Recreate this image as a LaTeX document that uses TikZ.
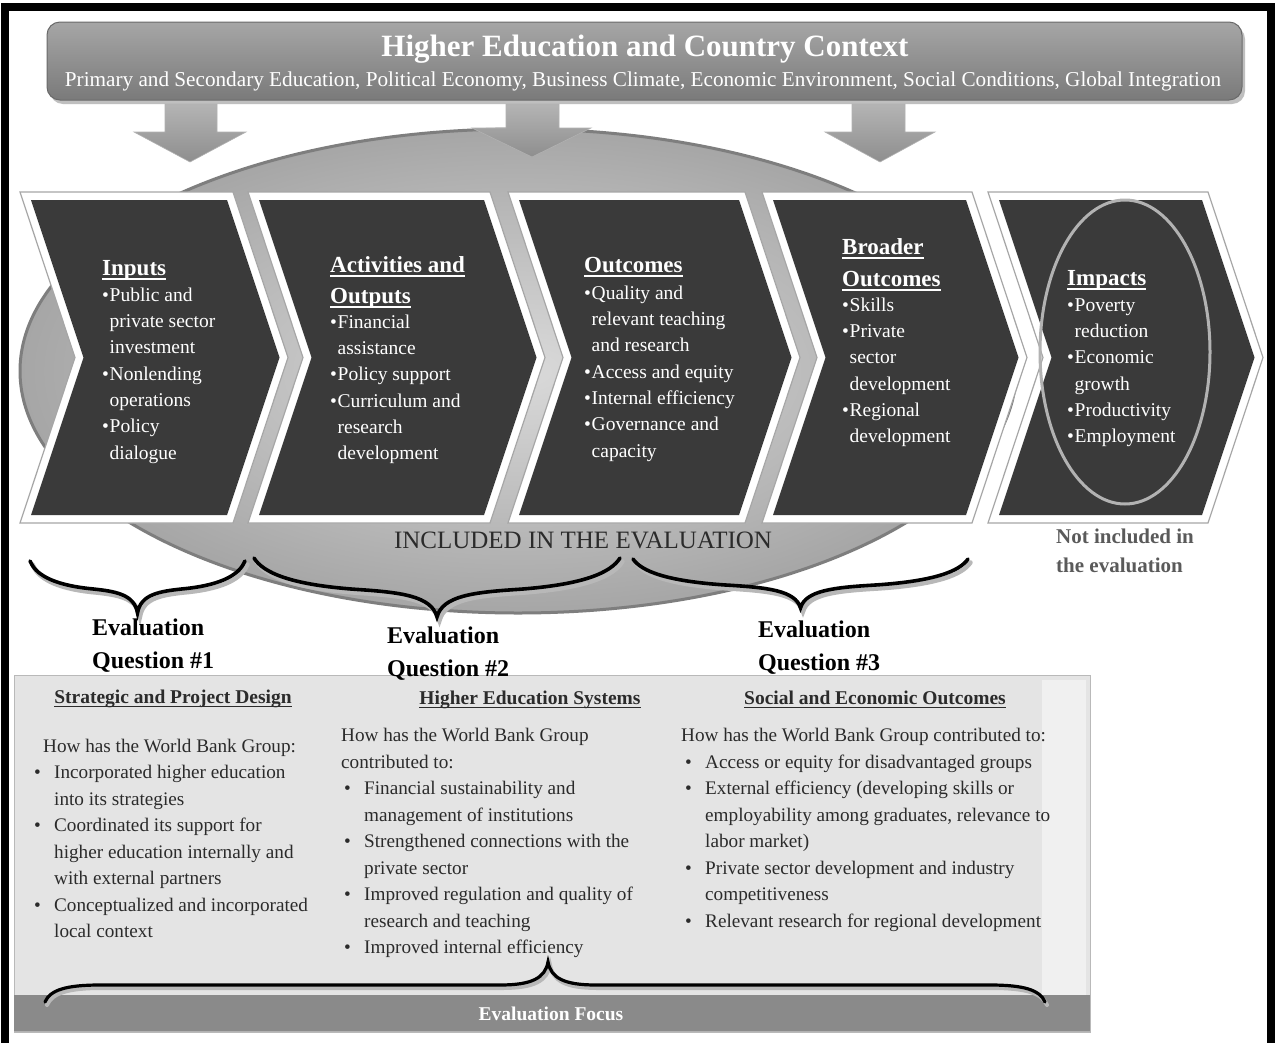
\documentclass[tikz,border=0pt]{standalone}
\usepackage{fontspec}
\setmainfont{Liberation Serif}

\definecolor{bannerTop}{HTML}{A6A6A6}
\definecolor{bannerBot}{HTML}{7A7A7A}
\definecolor{bannerEdge}{HTML}{6A6A6A}
\definecolor{arrowTop}{HTML}{B4B4B4}
\definecolor{arrowBot}{HTML}{8E8E8E}
\definecolor{ellIn}{HTML}{DADADA}
\definecolor{ellOut}{HTML}{A6A6A6}
\definecolor{ellRim}{HTML}{7E7E7E}
\definecolor{chevDark}{HTML}{3A3A3A}
\definecolor{panelBg}{HTML}{E4E4E4}
\definecolor{barBg}{HTML}{8A8A8A}
\definecolor{textDark}{HTML}{2B2B2B}
\definecolor{noteGray}{HTML}{5A5A5A}

% bullets and hanging indents
\newcommand{\cbul}{\makebox[7.5pt][l]{•}}
\newcommand{\cind}{\hspace*{7.5pt}}
\newcommand{\pbul}{\makebox[20pt][l]{•}}
\newcommand{\pind}{\hspace*{20pt}}
% heavy underline for headings
\newsavebox{\hdbox}
\newcommand{\hdul}[1]{\sbox\hdbox{#1}\rlap{\usebox\hdbox}\raisebox{-0.22em}{\rule{\wd\hdbox}{0.075em}}}

% one chevron: left and right x of its top edge
\newcommand{\chevron}[2]{%
  \pgfmathsetmacro{\chL}{#1}\pgfmathsetmacro{\chR}{#2}%
  \draw[chevframe] (\chL,192) -- (\chR,192) -- (\chR+55,357.5) -- (\chR,523)
        -- (\chL,523) -- (\chL+55,357.5) -- cycle;
  \fill[chevcore] (\chL+11,200) -- (\chR-6,200) -- (\chR+46.5,357.5) -- (\chR-6,515)
        -- (\chL+11,515) -- (\chL+63.5,357.5) -- cycle;
}

% downward curly brace: x0, x1, top y, depth
\newcommand{\bracedraw}[1]{%
  \draw[#1] (\bA,\bT) .. controls (\bA+0.05*\bH,\bT+0.25*\bD) and (\bA+0.2*\bH,\bT+0.45*\bD)
    .. (\bA+0.55*\bH,\bT+0.53*\bD) .. controls (\bM-0.2*\bH,\bT+0.58*\bD) and (\bM-0.03*\bH,\bT+0.64*\bD)
    .. (\bM,\bT+\bD) .. controls (\bM+0.03*\bH,\bT+0.64*\bD) and (\bM+0.2*\bH,\bT+0.58*\bD)
    .. (\bB-0.55*\bH,\bT+0.53*\bD) .. controls (\bB-0.2*\bH,\bT+0.45*\bD) and (\bB-0.05*\bH,\bT+0.25*\bD)
    .. (\bB,\bT);}
\newcommand{\downbrace}[4]{%
  \pgfmathsetmacro{\bA}{#1}\pgfmathsetmacro{\bB}{#2}%
  \pgfmathsetmacro{\bM}{(#1+#2)/2}\pgfmathsetmacro{\bH}{(#2-#1)/2}%
  \pgfmathsetmacro{\bT}{#3}\pgfmathsetmacro{\bD}{#4}%
  \bracedraw{braceshadow}\bracedraw{bracestroke}%
}

\begin{document}
\begin{tikzpicture}[x=1pt,y=-1pt,
  chevframe/.style={fill=white, draw=gray!70, line width=1.2pt, line join=miter},
  chevcore/.style={fill=chevDark},
  chevhead/.style={text=white, anchor=base west, inner sep=0pt, font=\bfseries\fontsize{23}{30}\selectfont},
  chevtxt/.style={text=white, anchor=north west, inner sep=0pt, align=left, font=\fontsize{19.5}{26.3}\selectfont},
  blockarrow/.style={top color=arrowTop, bottom color=arrowBot, draw=gray!60, line width=0.6pt},
  braceshadow/.style={draw=black!28, line width=4.5pt, line cap=round, shift={(2.5,3.5)}},
  bracestroke/.style={draw=black, line width=3.6pt, line cap=round},
  evalq/.style={anchor=base west, inner sep=0pt, text=black, font=\bfseries\fontsize{24}{33}\selectfont},
  panelhead/.style={anchor=base, inner sep=0pt, text=textDark, font=\bfseries\fontsize{19.5}{26}\selectfont},
  paneltxt/.style={anchor=north west, inner sep=0pt, align=left, text=textDark, font=\fontsize{19.2}{26.5}\selectfont},
]
\useasboundingbox (0,0) rectangle (1275,1042);
\fill[white] (0,0) rectangle (1275,1042);

% ---------- large ellipse behind the chain ----------
\shade[inner color=ellIn, outer color=ellOut] (518,371) ellipse [x radius=498, y radius=242];
\draw[ellRim, line width=3pt] (518,371) ellipse [x radius=498, y radius=242];

% ---------- context banner ----------
\fill[black!25, rounded corners=13pt] (50,26) rectangle (1245,104);
\shade[top color=bannerTop, bottom color=bannerBot, draw=bannerEdge, line width=1pt, rounded corners=13pt]
  (47,22) rectangle (1242,100);
\node[anchor=base, inner sep=0pt, text=white, font=\bfseries\fontsize{31}{36}\selectfont] (title) at (645,56)
  {Higher Education and Country Context};
\node[anchor=base, inner sep=0pt, text=white, font=\fontsize{21.2}{24}\selectfont] (subtitle) at (643,86)
  {Primary and Secondary Education, Political Economy, Business Climate, Economic Environment, Social Conditions, Global Integration};

% ---------- down arrows ----------
\shade[blockarrow] (165,104) -- (217,104) -- (217,132) -- (246,132) -- (190,162) -- (134,132) -- (165,132) -- cycle;
\shade[blockarrow] (506,104) -- (559,104) -- (559,128) -- (591,128) -- (532,157) -- (472,128) -- (506,128) -- cycle;
\shade[blockarrow] (852,104) -- (905,104) -- (905,132) -- (935,132) -- (880,162) -- (825,132) -- (852,132) -- cycle;

% ---------- chevron chain ----------
\chevron{20}{233}
\chevron{248}{490}
\chevron{508}{745}
\chevron{762}{972}
\chevron{988}{1208}
\draw[gray!60, line width=3pt] (1125,352) ellipse [x radius=85, y radius=152];

% Inputs
\node[chevhead] (h-inputs) at (102,275) {\hdul{Inputs}};
\node[chevtxt] (b-inputs) at (102,282.6) {\strut\cbul Public and\\ \cind private sector\\ \cind investment\\
  \cbul Nonlending\\ \cind operations\\ \cbul Policy\\ \cind dialogue};
% Activities and Outputs
\node[chevhead] (h-act1) at (330,272) {\hdul{Activities and}};
\node[chevhead] (h-act2) at (330,303) {\hdul{Outputs}};
\node[chevtxt] (b-act) at (330,309.6) {\strut\cbul Financial\\ \cind assistance\\ \cbul Policy support\\
  \cbul Curriculum and\\ \cind research\\ \cind development};
% Outcomes
\node[chevhead] (h-out) at (584,272) {\hdul{Outcomes}};
\node[chevtxt] (b-out) at (584,280.6) {\strut\cbul Quality and\\ \cind relevant teaching\\ \cind and research\\
  \cbul Access and equity\\ \cbul Internal efficiency\\ \cbul Governance and\\ \cind capacity};
% Broader Outcomes
\node[chevhead] (h-brd1) at (842,254) {\hdul{Broader}};
\node[chevhead] (h-brd2) at (842,286) {\hdul{Outcomes}};
\node[chevtxt] (b-brd) at (842,292.6) {\strut\cbul Skills\\ \cbul Private\\ \cind sector\\ \cind development\\
  \cbul Regional\\ \cind development};
% Impacts
\node[chevhead] (h-imp) at (1067,285) {\hdul{Impacts}};
\node[chevtxt] (b-imp) at (1067,292.6) {\strut\cbul Poverty\\ \cind reduction\\ \cbul Economic\\ \cind growth\\
  \cbul Productivity\\ \cbul Employment};

% ---------- scope labels ----------
\node[inner sep=0pt, text=textDark, font=\fontsize{25}{30}\selectfont] (included) at (583,540)
  {INCLUDED IN THE EVALUATION};
\node[anchor=base west, inner sep=0pt, text=noteGray, font=\bfseries\fontsize{21}{29}\selectfont] (notinc1) at (1056,543) {Not included in};
\node[anchor=base west, inner sep=0pt, text=noteGray, font=\bfseries\fontsize{21}{29}\selectfont] (notinc2) at (1056,572) {the evaluation};

% ---------- braces over the evaluation questions ----------
\downbrace{30}{245}{561}{52}
\downbrace{254}{620}{558}{59}
\downbrace{633}{968}{559}{49}

% ---------- evaluation focus panel ----------
\fill[panelBg] (14,675) rectangle (1090,1032);
\fill[black!6] (1042,680) rectangle (1086,995);
\draw[gray!55, line width=1pt] (14,675) rectangle (1090,1032);
\fill[barBg] (14,995) rectangle (1090,1032);
\draw[black!30, line width=1pt] (14,1031) -- (1090,1031);
\node[anchor=base, inner sep=0pt, text=white, font=\bfseries\fontsize{19.5}{24}\selectfont] (focus) at (551,1020) {Evaluation Focus};

% upward brace over the focus bar
\draw[black!28, line width=4pt, line cap=round, shift={(2,3)}]
  (45,1002) .. controls (50,990) and (66,985) .. (100,985) -- (500,985)
  .. controls (532,985) and (545,978) .. (548,962) .. controls (551,978) and (564,985) .. (596,985)
  -- (990,985) .. controls (1024,985) and (1040,990) .. (1045,1002);
\draw[black, line width=3.2pt, line cap=round]
  (45,1002) .. controls (50,990) and (66,985) .. (100,985) -- (500,985)
  .. controls (532,985) and (545,978) .. (548,962) .. controls (551,978) and (564,985) .. (596,985)
  -- (990,985) .. controls (1024,985) and (1040,990) .. (1045,1002);

% evaluation question labels
\node[evalq] (q1a) at (92,635) {Evaluation};
\node[evalq] (q1b) at (92,668) {Question \#1};
\node[evalq] (q2a) at (387,643) {Evaluation};
\node[evalq] (q2b) at (387,676) {Question \#2};
\node[evalq] (q3a) at (758,637) {Evaluation};
\node[evalq] (q3b) at (758,670) {Question \#3};

% column headings
\node[panelhead] (ph1) at (173,703) {\hdul{Strategic and Project Design}};
\node[panelhead] (ph2) at (530,704) {\hdul{Higher Education Systems}};
\node[panelhead] (ph3) at (875,704) {\hdul{Social and Economic Outcomes}};

% column texts
\node[paneltxt] (pc1) at (34,733.5) {\strut\hspace*{9pt}How has the World Bank Group:\\
  \pbul Incorporated higher education\\ \pind into its strategies\\
  \pbul Coordinated its support for\\ \pind higher education internally and\\ \pind with external partners\\
  \pbul Conceptualized and incorporated\\ \pind local context};
\node[paneltxt] (pc2) at (341,723) {\strut How has the World Bank Group\\ contributed to:\\
  \hspace*{3pt}\pbul Financial sustainability and\\ \hspace*{3pt}\pind management of institutions\\
  \hspace*{3pt}\pbul Strengthened connections with the\\ \hspace*{3pt}\pind private sector\\
  \hspace*{3pt}\pbul Improved regulation and quality of\\ \hspace*{3pt}\pind research and teaching\\
  \hspace*{3pt}\pbul Improved internal efficiency};
\node[paneltxt] (pc3) at (681,723) {\strut How has the World Bank Group contributed to:\\
  \hspace*{4pt}\pbul Access or equity for disadvantaged groups\\
  \hspace*{4pt}\pbul External efficiency (developing skills or\\
  \hspace*{4pt}\pind employability among graduates, relevance to\\
  \hspace*{4pt}\pind labor market)\\
  \hspace*{4pt}\pbul Private sector development and industry\\
  \hspace*{4pt}\pind competitiveness\\
  \hspace*{4pt}\pbul Relevant research for regional development};

% ---------- outer frame ----------
\draw[black, line width=8pt] (5,7) rectangle (1270.5,1060);
\end{tikzpicture}
\end{document}
